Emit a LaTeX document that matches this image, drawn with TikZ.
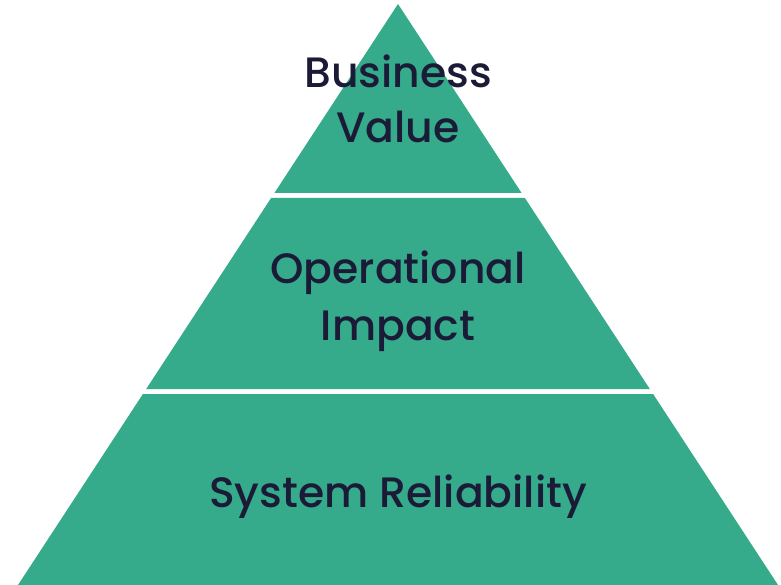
\documentclass[tikz,border=0pt]{standalone}
\usepackage{fontspec}
\setmainfont{Poppins}[UprightFont=* Medium]
\definecolor{tiergreen}{RGB}{53,171,139}
\definecolor{tiertext}{RGB}{27,27,56}
\begin{document}
\begin{tikzpicture}[x=1pt,y=-1pt,
  tier/.style={fill=tiergreen,draw=none},
  label/.style={text=tiertext,font=\fontsize{42.5}{55}\selectfont,anchor=base,inner sep=0pt}]
\useasboundingbox (0,0) rectangle (781,585);
\fill[tier] (398,4) -- (521.6,193) -- (274.4,193) -- cycle;
\fill[tier] (271.1,198) -- (524.9,198) -- (649.8,389) -- (146.2,389) -- cycle;
\fill[tier] (142.9,394) -- (653.1,394) -- (778,585) -- (18,585) -- cycle;
\node[label] (business) at (398,87.5) {Business};
\node[label] (value) at (398,142.5) {Value};
\node[label] (operational) at (398,283) {Operational};
\node[label] (impact) at (398,340) {Impact};
\node[label] (reliability) at (398,507) {System Reliability};
\end{tikzpicture}
\end{document}
